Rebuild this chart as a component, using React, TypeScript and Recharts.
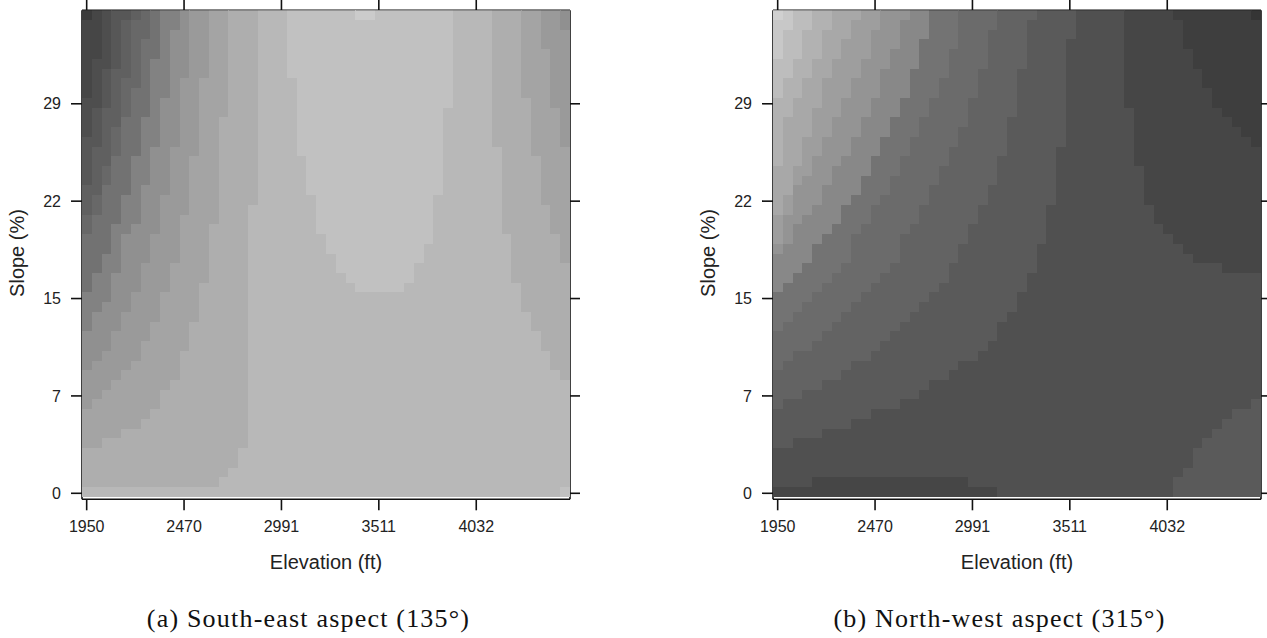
import React from "react";
import { ScatterChart, Scatter, XAxis, YAxis, Label } from "recharts";

type Step = [number, number]; // [first row from the top, first column past the edge]
const NONE = 99;
const ROWS = 50;
const COLS = 50;

// axis values
const elevationTicks = [1950, 2470.4, 2990.9, 3511.3, 4032];
const elevationLabels = ["1950", "2470", "2991", "3511", "4032"];
const slopeTicks = [0, 7.25, 14.5, 21.75, 29];
const slopeLabels = ["0", "7", "15", "22", "29"];
const elevationDomain = [1925, 4533];
const slopeDomain = [-0.447, 35.96];

// gray shade for each band, panel (a) dark to light
const shadesA = ["#3b3b3b", "#464646", "#4e4e4e", "#575757", "#606060", "#686868", "#727272", "#828282", "#909090", "#9a9a9a", "#a4a4a4", "#aeaeae", "#b8b8b8", "#c1c1c1", "#cbcbcb"];
// panel (a) band edges, left side going up in lightness
const aUp1: Step[] = [[0, 1], [1, 0]];
const aUp2: Step[] = [[0, 2], [5, 1], [9, 0]];
const aUp3: Step[] = [[0, 3], [6, 2], [10, 1], [13, 0]];
const aUp4: Step[] = [[0, 5], [1, 4], [6, 3], [10, 2], [14, 1], [18, 0]];
const aUp5: Step[] = [[0, 6], [1, 5], [7, 4], [12, 3], [16, 2], [19, 1], [21, 0]];
const aUp6: Step[] = [[0, 7], [3, 6], [8, 5], [11, 4], [15, 3], [18, 2], [21, 1], [23, 0]];
const aUp7: Step[] = [[0, 8], [5, 7], [11, 6], [15, 5], [19, 4], [22, 3], [25, 2], [27, 1], [29, 0]];
const aUp8: Step[] = [[0, 10], [2, 9], [9, 8], [14, 7], [18, 6], [22, 5], [23, 4], [27, 3], [30, 2], [31, 1], [33, 0]];
const aUp9: Step[] = [[0, 11], [7, 10], [14, 9], [19, 8], [23, 7], [26, 6], [29, 5], [31, 4], [33, 3], [35, 2], [36, 1], [37, 0]];
const aUp10: Step[] = [[0, 13], [7, 12], [15, 11], [21, 10], [26, 9], [29, 8], [32, 7], [34, 6], [36, 5], [37, 4], [38, 3], [39, 2], [40, 1], [41, 0]];
const aUp11: Step[] = [[0, 15], [11, 14], [22, 13], [28, 12], [32, 11], [35, 10], [38, 9], [39, 8], [41, 7], [42, 6], [43, 4], [44, 2], [45, 0]];
const aUp12: Step[] = [[0, 18], [20, 17], [45, 16], [47, 15], [48, 14], [49, 0]];
const aUp13: Step[] = [[0, 21], [7, 22], [15, 23], [19, 24], [23, 25], [25, 26], [27, 27], [28, 28], [29, NONE], [49, 49]];
const aUp14: Step[] = [[0, 28], [1, NONE]];
// panel (a) band edges, right side going back down
const aDown1: Step[] = [[0, 30], [1, NONE]];
const aDown2: Step[] = [[0, 38], [10, 37], [19, 36], [24, 35], [26, 34], [28, 33], [29, NONE]];
const aDown3: Step[] = [[0, 42], [14, 43], [23, 44], [28, 45], [31, 46], [33, 47], [35, 48], [37, 49], [38, NONE]];
const aDown4: Step[] = [[0, 45], [9, 46], [15, 47], [20, 48], [23, 49], [26, NONE]];
const aDown5: Step[] = [[0, 47], [4, 48], [10, 49], [14, NONE]];
const aDown6: Step[] = [[0, 49], [2, NONE]];

// gray shade for each band, panel (b) light to dark
const shadesB = ["#d0d0d0", "#c8c8c8", "#bdbdbd", "#b2b2b2", "#a8a8a8", "#9e9e9e", "#949494", "#888888", "#737373", "#6b6b6b", "#636363", "#5a5a5a", "#505050", "#464646", "#3e3e3e", "#353535"];
const bDark1: Step[] = [[0, 1], [1, 0]];
const bDark2: Step[] = [[0, 2], [2, 1], [5, 0]];
const bDark3: Step[] = [[0, 4], [2, 3], [5, 2], [7, 1], [9, 0]];
const bDark4: Step[] = [[0, 6], [2, 5], [5, 4], [7, 3], [9, 2], [11, 1], [16, 0]];
const bDark5: Step[] = [[0, 9], [1, 8], [3, 7], [5, 6], [7, 5], [10, 4], [13, 3], [16, 2], [19, 1], [21, 0]];
const bDark6: Step[] = [[0, 11], [2, 10], [5, 9], [7, 8], [9, 7], [11, 6], [13, 5], [15, 4], [17, 3], [18, 2], [21, 1], [24, 0]];
const bDark7: Step[] = [[0, 14], [1, 13], [4, 12], [6, 11], [9, 10], [11, 9], [13, 8], [15, 7], [16, 6], [18, 5], [20, 4], [21, 3], [22, 2], [24, 1], [25, 0]];
const bDark8: Step[] = [[0, 16], [3, 15], [6, 14], [9, 13], [11, 12], [13, 11], [15, 10], [17, 9], [19, 8], [20, 7], [22, 6], [23, 5], [24, 4], [26, 3], [27, 2], [28, 1], [29, 0]];
const bDark9: Step[] = [[0, 19], [4, 18], [7, 17], [9, 16], [11, 15], [13, 14], [15, 13], [17, 12], [19, 11], [20, 10], [22, 9], [23, 8], [26, 7], [27, 6], [28, 5], [29, 4], [30, 3], [31, 2], [32, 1], [33, 0]];
const bDark10: Step[] = [[0, 23], [2, 22], [6, 21], [9, 20], [12, 19], [14, 18], [16, 17], [18, 16], [20, 15], [22, 14], [23, 13], [26, 12], [27, 11], [28, 10], [29, 9], [30, 8], [31, 7], [32, 6], [33, 5], [34, 4], [35, 2], [36, 1], [37, 0]];
const bDark11: Step[] = [[0, 27], [1, 26], [6, 25], [11, 24], [15, 23], [18, 22], [20, 21], [22, 20], [24, 19], [26, 18], [28, 17], [29, 16], [30, 15], [31, 14], [32, 13], [33, 12], [34, 11], [35, 10], [36, 8], [37, 7], [38, 5], [39, 3], [40, 1], [41, 0]];
const bDark12: Step[] = [[0, 31], [3, 30], [14, 29], [20, 28], [24, 27], [27, 26], [29, 25], [31, 24], [32, 23], [34, 22], [35, 21], [36, 19], [37, 18], [38, 16], [39, 15], [40, 13], [41, 10], [42, 8], [43, 5], [44, 2], [45, 0]];
const bDark13: Step[] = [[0, 36], [10, 37], [16, 38], [20, 39], [22, 40], [23, 41], [24, 42], [25, 43], [26, 46], [27, NONE], [48, 4], [49, 0]];
const bDark14: Step[] = [[0, 41], [1, 42], [4, 43], [6, 44], [8, 45], [10, 46], [11, 47], [12, 48], [13, 49], [14, NONE]];
const bDark15: Step[] = [[0, 49], [1, NONE]];
const bLift1: Step[] = [[0, NONE], [48, 20], [49, 23]];
const bLift2: Step[] = [[0, NONE], [40, 49], [41, 47], [42, 46], [43, 45], [44, 44], [45, 43], [47, 42], [48, 41]];

const edgeAt = (steps: Step[], row: number) => {
  let col = NONE;
  for (const [start, c] of steps) if (row >= start) col = c;
  return col;
};

type Run = { elevation: number; slope: number; span: number; fill: string };

// merge each row of cells into runs of one shade
const buildRuns = (adds: Step[][], subs: Step[][], shades: string[]): Run[] => {
  const cellX = (elevationDomain[1] - elevationDomain[0]) / COLS;
  const cellY = (slopeDomain[1] - slopeDomain[0] - 0.19) / ROWS;
  const runs: Run[] = [];
  for (let r = 0; r < ROWS; r++) {
    let start = 0;
    const levelAt = (c: number) =>
      adds.filter((s) => edgeAt(s, r) <= c).length - subs.filter((s) => edgeAt(s, r) <= c).length;
    for (let c = 1; c <= COLS; c++) {
      if (c === COLS || levelAt(c) !== levelAt(start)) {
        const len = c - start;
        runs.push({
          elevation: elevationDomain[0] + cellX * (start + len / 2),
          slope: slopeDomain[1] - cellY * (r + 0.5),
          span: len,
          fill: shades[levelAt(start)],
        });
        start = c;
      }
    }
  }
  return runs;
};

const runsA = buildRuns(
  [aUp1, aUp2, aUp3, aUp4, aUp5, aUp6, aUp7, aUp8, aUp9, aUp10, aUp11, aUp12, aUp13, aUp14],
  [aDown1, aDown2, aDown3, aDown4, aDown5, aDown6],
  shadesA
);
const runsB = buildRuns(
  [bDark1, bDark2, bDark3, bDark4, bDark5, bDark6, bDark7, bDark8, bDark9, bDark10, bDark11, bDark12, bDark13, bDark14, bDark15],
  [bLift1, bLift2],
  shadesB
);

const PLOT_W = 488;
const CELL_W = PLOT_W / COLS;
const CELL_H = 9.73;
const AXIS = "#111";
const SANS = "'Liberation Sans', Arial, sans-serif";

const CellShape = (p: any) => {
  const w = p.payload.span * CELL_W;
  return (
    <rect
      x={p.cx - w / 2}
      y={p.cy - CELL_H / 2}
      width={w + 0.3}
      height={CELL_H + 0.3}
      fill={p.payload.fill}
      stroke="none"
      shapeRendering="crispEdges"
    />
  );
};

const tickStyle = { fontSize: 16, fontFamily: SANS, fill: "#222" };
const blank = () => "";

const Panel = ({ runs, width, rightW }: { runs: Run[]; width: number; rightW: number }) => (
  <ScatterChart width={width} height={590} margin={{ top: 0, right: 0, bottom: 10.7, left: 0 }}>
    <XAxis
      xAxisId="bottom"
      type="number"
      dataKey="elevation"
      orientation="bottom"
      domain={elevationDomain}
      allowDataOverflow
      ticks={elevationTicks}
      interval={0}
      height={80}
      tickSize={11}
      tickMargin={10}
      tick={tickStyle}
      stroke={AXIS}
      strokeWidth={1.6}
      tickFormatter={(_v: number, i: number) => elevationLabels[i]}
    >
      <Label
        content={(p: any) => (
          <text x={p.viewBox.x + p.viewBox.width / 2} y={569} textAnchor="middle" fontSize={20} fontFamily={SANS} fill="#222">
            Elevation (ft)
          </text>
        )}
      />
    </XAxis>
    <XAxis
      xAxisId="top"
      type="number"
      dataKey="elevation"
      orientation="top"
      domain={elevationDomain}
      allowDataOverflow
      ticks={elevationTicks}
      interval={0}
      height={10.3}
      tickSize={11}
      stroke={AXIS}
      strokeWidth={1.6}
      tickFormatter={blank}
    />
    <YAxis
      yAxisId="left"
      type="number"
      dataKey="slope"
      orientation="left"
      domain={slopeDomain}
      allowDataOverflow
      ticks={slopeTicks}
      interval={0}
      width={82}
      tickSize={11}
      tickMargin={10}
      tick={tickStyle}
      stroke={AXIS}
      strokeWidth={1.6}
      tickFormatter={(_v: number, i: number) => slopeLabels[i]}
    >
      <Label
        content={() => (
          <text transform="translate(24 253) rotate(-90)" textAnchor="middle" fontSize={20} fontFamily={SANS} fill="#222">
            Slope (%)
          </text>
        )}
      />
    </YAxis>
    <YAxis
      yAxisId="right"
      type="number"
      dataKey="slope"
      orientation="right"
      domain={slopeDomain}
      allowDataOverflow
      ticks={slopeTicks}
      interval={0}
      width={rightW}
      tickSize={11}
      stroke={AXIS}
      strokeWidth={1.6}
      tickFormatter={blank}
    />
    <Scatter data={runs} xAxisId="bottom" yAxisId="left" isAnimationActive={false} shape={CellShape} />
  </ScatterChart>
);

const captionStyle = (center: number): React.CSSProperties => ({
  position: "absolute",
  left: center - 250,
  top: 604,
  width: 500,
  textAlign: "center",
  fontFamily: "'Liberation Serif', serif",
  fontSize: 26,
  letterSpacing: 1.2,
  lineHeight: "30px",
  color: "#111",
  whiteSpace: "nowrap",
});

export default function App() {
  return (
    <div style={{ position: "absolute", left: 0, top: 0, width: 1267, height: 638, overflow: "hidden", background: "#fff" }}>
      <div style={{ position: "absolute", left: 0, top: 0 }}>
        <Panel runs={runsA} width={580} rightW={10} />
      </div>
      <div style={{ position: "absolute", left: 691, top: 0 }}>
        <Panel runs={runsB} width={580} rightW={10} />
      </div>
      <div style={captionStyle(308.5)}>(a) South-east aspect (135°)</div>
      <div style={captionStyle(999.5)}>(b) North-west aspect (315°)</div>
    </div>
  );
}
